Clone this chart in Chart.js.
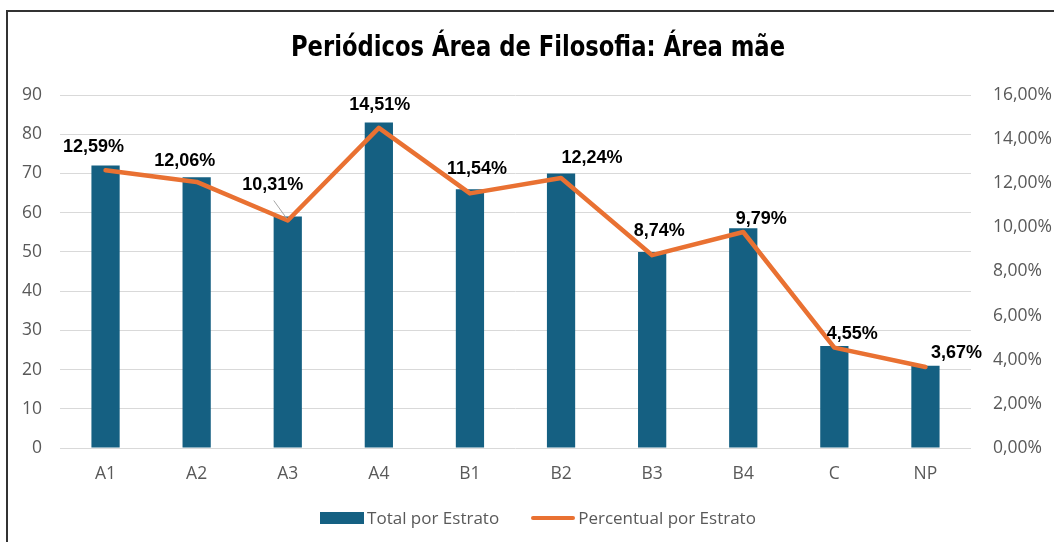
<!DOCTYPE html>
<html>
<head>
<meta charset="utf-8">
<script src="https://cdn.jsdelivr.net/npm/chart.js@4.4.1/dist/chart.umd.min.js"></script>
<style>
  html, body { margin: 0; padding: 0; background: #fff; overflow: hidden; }
  #wrap { position: relative; width: 1076px; height: 542px; }
  #frame { position: absolute; left: 6px; top: 10px; right: 0; bottom: -5px; border-left: 2px solid #333; border-top: 2px solid #333; }
  #title { position: absolute; left: 0; width: 1076px; top: 30px; text-align: center;
           font-family: "Liberation Sans Narrow", "DejaVu Sans Condensed", sans-serif; font-weight: bold; font-size: 28px; color: #000;
           transform: scaleX(0.9); transform-origin: 538px 0; }
  #legend { position: absolute; left: 0; width: 1076px; top: 506px; display: flex; justify-content: center; gap: 32px;
            font-family: "Open Sans", sans-serif; font-size: 17px; color: #595959; }
  .item { display: flex; align-items: center; gap: 3px; }
  .sym { width: 44px; }
</style>
</head>
<body>
<div id="wrap">
  <div id="frame"></div>
  <canvas id="chart" width="1076" height="542"></canvas>
  <div id="title">Periódicos Área de Filosofia: Área mãe</div>
  <div id="legend"></div>
</div>
<script>
// Data
const categories = ['A1', 'A2', 'A3', 'A4', 'B1', 'B2', 'B3', 'B4', 'C', 'NP'];
const totalPorEstrato = [72, 69, 59, 83, 66, 70, 50, 56, 26, 21];
const percentualPorEstrato = [12.59, 12.06, 10.31, 14.51, 11.54, 12.24, 8.74, 9.79, 4.55, 3.67];

// label placement relative to each line point (dx, dy)
const labelOffsets = [[-12, -23], [-12, -21], [-15, -36], [1, -23], [7, -24], [31, -20], [7, -24], [18, -13], [18, -14], [31, -14]];

const barColor = '#156082';
const lineColor = '#E97132';
const tickColor = '#595959';
const fmtPct = v => v.toFixed(2).replace('.', ',') + '%';

const dataLabels = {
    id: 'dataLabels',
    afterDatasetsDraw(chart) {
        const meta = chart.getDatasetMeta(1);
        const ctx = chart.ctx;
        ctx.save();
        meta.data.forEach((pt, i) => {
            const [dx, dy] = labelOffsets[i];
            if (i === 2) {
                // leader line
                ctx.strokeStyle = '#a6a6a6';
                ctx.lineWidth = 1;
                ctx.beginPath();
                ctx.moveTo(pt.x - 14, pt.y - 20);
                ctx.lineTo(pt.x - 1, pt.y - 2);
                ctx.stroke();
            }
            ctx.font = 'bold 18px "Liberation Sans", Arial, sans-serif';
            ctx.fillStyle = '#000';
            ctx.textAlign = 'center';
            ctx.textBaseline = 'middle';
            ctx.fillText(fmtPct(percentualPorEstrato[i]), pt.x + dx, pt.y + dy);
        });
        ctx.restore();
    }
};

const tickFont = { family: '"Open Sans", sans-serif', size: 17.5 };

const chart = new Chart(document.getElementById('chart'), {
    type: 'bar',
    data: {
        labels: categories,
        datasets: [{
            type: 'bar',
            label: 'Total por Estrato',
            data: totalPorEstrato,
            backgroundColor: barColor,
            barPercentage: 0.31,
            categoryPercentage: 1,
            yAxisID: 'y',
            order: 2
        }, {
            type: 'line',
            label: 'Percentual por Estrato',
            data: percentualPorEstrato,
            borderColor: lineColor,
            borderWidth: 4.5,
            borderCapStyle: 'round',
            borderJoinStyle: 'round',
            pointRadius: 0,
            tension: 0,
            yAxisID: 'y1',
            order: 1
        }]
    },
    options: {
        responsive: false,
        animation: false,
        layout: { padding: { top: 95, bottom: 44, left: 0, right: 0 } },
        plugins: {
            legend: { display: false },
            title: { display: false },
            tooltip: { enabled: false }
        },
        scales: {
            x: {
                grid: { display: false },
                border: { display: false },
                ticks: { color: tickColor, font: tickFont, padding: 8 },
                afterFit: s => { s.height = 50; }
            },
            y: {
                position: 'left',
                min: 0, max: 90,
                ticks: { stepSize: 10, color: tickColor, font: tickFont, padding: 18 },
                grid: { color: '#d9d9d9', drawTicks: false },
                border: { display: false },
                afterFit: s => { s.width = 60; }
            },
            y1: {
                position: 'right',
                min: 0, max: 16,
                ticks: { stepSize: 2, color: tickColor, font: tickFont, padding: 22, callback: v => fmtPct(v) },
                grid: { display: false, drawTicks: false },
                border: { display: false },
                afterFit: s => { s.width = 105; }
            }
        }
    },
    plugins: [dataLabels]
});

// legend
const legend = document.getElementById('legend');
chart.data.datasets.forEach(ds => {
    const item = document.createElement('div');
    item.className = 'item';
    const sym = document.createElement('span');
    sym.className = 'sym';
    if (ds.type === 'line') {
        sym.style.height = '4px';
        sym.style.borderRadius = '2px';
        sym.style.background = ds.borderColor;
    } else {
        sym.style.height = '12px';
        sym.style.background = ds.backgroundColor;
    }
    const txt = document.createElement('span');
    txt.textContent = ds.label;
    item.appendChild(sym);
    item.appendChild(txt);
    legend.appendChild(item);
});
</script>
</body>
</html>
